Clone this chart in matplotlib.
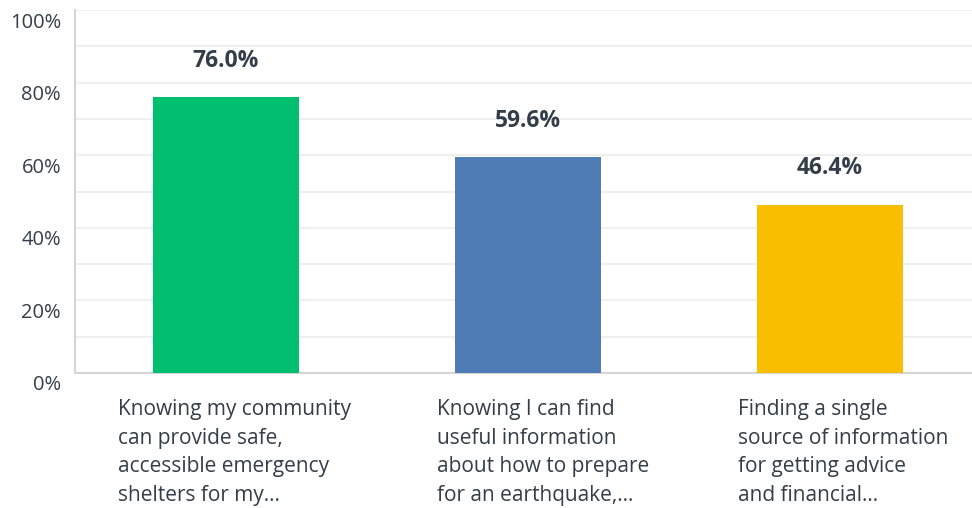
import numpy as np
import matplotlib.pyplot as plt
from matplotlib.ticker import MultipleLocator, FuncFormatter
import matplotlib.transforms as mtransforms

# data
labels = [
    "Knowing my community\ncan provide safe,\naccessible emergency\nshelters for my...",
    "Knowing I can find\nuseful information\nabout how to prepare\nfor an earthquake,...",
    "Finding a single\nsource of information\nfor getting advice\nand financial...",
]
values = [76.0, 59.6, 46.4]
colors = ["#00BF6F", "#507CB6", "#F9BE00"]

plt.rcParams['font.family'] = ['Open Sans', 'DejaVu Sans']
txt = "#333E48"

fig = plt.figure(figsize=(9.72, 5.08), dpi=100)
ax = fig.add_axes([75 / 972, 1 - 373 / 508, 897 / 972, 363 / 508])

x = np.arange(len(values))
ax.bar(x, values, width=0.483, color=colors, zorder=3)

ax.set_xlim(-0.5, -0.5 + 897 / 302)
ax.set_ylim(0, 100)

# grid every 10%, labels every 20%
ax.yaxis.set_major_locator(MultipleLocator(20))
ax.yaxis.set_minor_locator(MultipleLocator(10))
ax.yaxis.set_major_formatter(FuncFormatter(lambda v, p: f"{v:.0f}%"))
ax.grid(axis='y', which='both', color="#EDEEEE", linewidth=1.3, zorder=0)
ax.tick_params(axis='y', which='both', length=0, labelsize=14.5, labelcolor=txt, pad=10)
ax.tick_params(axis='x', length=0, labelbottom=False)
offset = mtransforms.ScaledTranslation(0, -10 / 100, fig.dpi_scale_trans)
for lab in ax.get_yticklabels():
    lab.set_transform(lab.get_transform() + offset)

for s in ['top', 'right']:
    ax.spines[s].set_visible(False)
for s in ['left', 'bottom']:
    ax.spines[s].set_color("#D5D5D5")
    ax.spines[s].set_linewidth(1.5)

# value labels
for xi, v in zip(x, values):
    ax.annotate(f"{v:.1f}%", (xi, v), xytext=(0, 26), textcoords='offset points',
                ha='center', va='center', fontsize=16.5, fontweight='bold', color=txt)

# category labels (left edge of each text block relative to bar centre)
shift = [0.358, 0.30, 0.305]
trans = mtransforms.blended_transform_factory(ax.transData, ax.transAxes)
for xi, lab, d in zip(x, labels, shift):
    ax.text(xi - d, -0.072, lab, transform=trans, ha='left', va='top',
            fontsize=15, color=txt, linespacing=1.48)

fig.savefig("out.png", dpi=100)
